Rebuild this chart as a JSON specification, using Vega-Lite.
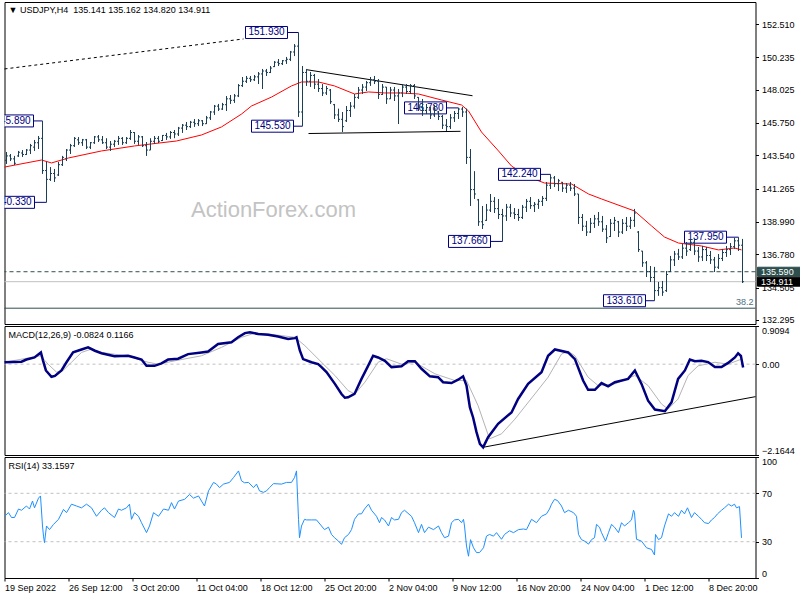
{
"$schema":"https://vega.github.io/schema/vega-lite/v6.json",
"background":"white",
"padding":{"left":-1.5,"top":1,"right":0,"bottom":0},
"spacing":2,
"bounds":"flush",
"config":{
 "view":{"stroke":"#000","strokeWidth":1},
 "axis":{"labelFont":"Liberation Sans","labelFontSize":9,"labelColor":"#000","tickColor":"#000","tickSize":3,"domain":false,"grid":false,"labelPadding":3}
},
"datasets":{
"bars":[
{"i":1,"o":143.2,"h":143.77,"l":142.95,"c":143.5},
{"i":3,"o":143.5,"h":143.63,"l":143.15,"c":143.3},
{"i":5,"o":143.3,"h":143.5,"l":142.88,"c":143.0},
{"i":7,"o":143.5,"h":143.84,"l":143.43,"c":143.75},
{"i":9,"o":143.7,"h":143.9,"l":143.43,"c":143.6},
{"i":11,"o":143.6,"h":143.97,"l":143.56,"c":143.9},
{"i":13,"o":143.9,"h":144.32,"l":143.63,"c":144.2},
{"i":15,"o":144.1,"h":144.59,"l":143.84,"c":144.4},
{"i":17,"o":144.4,"h":144.86,"l":143.97,"c":144.7},
{"i":19,"o":144.7,"h":145.89,"l":142.27,"c":142.5},
{"i":21,"o":142.5,"h":143.09,"l":140.33,"c":141.9},
{"i":23,"o":141.9,"h":142.74,"l":141.79,"c":142.3},
{"i":25,"o":142.3,"h":142.61,"l":141.72,"c":142.0},
{"i":27,"o":142.2,"h":143.09,"l":142.13,"c":142.9},
{"i":29,"o":142.9,"h":143.5,"l":142.81,"c":143.4},
{"i":31,"o":143.3,"h":143.97,"l":143.15,"c":143.9},
{"i":33,"o":143.9,"h":144.32,"l":143.63,"c":144.2},
{"i":35,"o":144.2,"h":144.79,"l":144.11,"c":144.7},
{"i":37,"o":144.6,"h":144.79,"l":144.25,"c":144.4},
{"i":39,"o":144.4,"h":144.66,"l":144.18,"c":144.6},
{"i":41,"o":144.6,"h":144.66,"l":143.97,"c":144.1},
{"i":43,"o":144.1,"h":144.45,"l":143.97,"c":144.4},
{"i":45,"o":144.4,"h":144.86,"l":144.32,"c":144.8},
{"i":47,"o":144.8,"h":144.93,"l":144.45,"c":144.6},
{"i":49,"o":144.6,"h":144.86,"l":144.32,"c":144.4},
{"i":51,"o":144.4,"h":144.71,"l":143.97,"c":144.1},
{"i":53,"o":144.1,"h":144.52,"l":143.84,"c":144.3},
{"i":55,"o":144.3,"h":144.59,"l":144.11,"c":144.5},
{"i":57,"o":144.5,"h":144.86,"l":144.25,"c":144.7},
{"i":59,"o":144.7,"h":144.79,"l":144.25,"c":144.4},
{"i":61,"o":144.4,"h":144.79,"l":144.32,"c":144.7},
{"i":63,"o":144.7,"h":145.27,"l":144.59,"c":145.1},
{"i":65,"o":145.1,"h":145.13,"l":144.32,"c":144.5},
{"i":67,"o":144.5,"h":144.93,"l":144.25,"c":144.8},
{"i":69,"o":144.8,"h":144.86,"l":144.11,"c":144.2},
{"i":71,"o":144.2,"h":144.45,"l":143.5,"c":143.9},
{"i":73,"o":143.9,"h":144.71,"l":143.9,"c":144.5},
{"i":75,"o":144.5,"h":144.86,"l":144.32,"c":144.7},
{"i":77,"o":144.7,"h":144.86,"l":144.38,"c":144.5},
{"i":79,"o":144.55,"h":144.93,"l":144.52,"c":144.9},
{"i":81,"o":144.9,"h":145.07,"l":144.59,"c":144.8},
{"i":83,"o":144.8,"h":145.2,"l":144.66,"c":145.1},
{"i":85,"o":145.1,"h":145.27,"l":144.71,"c":145.0},
{"i":87,"o":145.0,"h":145.48,"l":144.86,"c":145.4},
{"i":89,"o":145.4,"h":145.68,"l":145.07,"c":145.6},
{"i":91,"o":145.6,"h":145.82,"l":145.27,"c":145.5},
{"i":93,"o":145.5,"h":145.89,"l":145.41,"c":145.8},
{"i":95,"o":145.8,"h":146.02,"l":145.48,"c":145.7},
{"i":97,"o":145.7,"h":146.02,"l":145.54,"c":145.9},
{"i":99,"o":145.9,"h":145.95,"l":145.54,"c":145.7},
{"i":101,"o":145.7,"h":146.23,"l":145.68,"c":146.1},
{"i":103,"o":146.1,"h":146.57,"l":145.95,"c":146.5},
{"i":105,"o":146.5,"h":146.98,"l":146.3,"c":146.9},
{"i":107,"o":146.9,"h":147.05,"l":146.57,"c":146.7},
{"i":109,"o":146.7,"h":147.12,"l":146.64,"c":147.0},
{"i":111,"o":147.0,"h":147.59,"l":146.57,"c":147.4},
{"i":113,"o":147.4,"h":147.66,"l":147.05,"c":147.3},
{"i":115,"o":147.3,"h":147.73,"l":147.12,"c":147.6},
{"i":117,"o":147.6,"h":148.41,"l":147.52,"c":148.3},
{"i":119,"o":148.3,"h":148.89,"l":148.21,"c":148.6},
{"i":121,"o":148.6,"h":148.96,"l":148.48,"c":148.8},
{"i":123,"o":148.8,"h":148.96,"l":148.55,"c":148.7},
{"i":125,"o":148.7,"h":149.03,"l":148.62,"c":148.9},
{"i":127,"o":148.9,"h":149.23,"l":148.41,"c":149.1},
{"i":129,"o":149.1,"h":149.44,"l":148.07,"c":149.3},
{"i":131,"o":149.3,"h":149.44,"l":148.96,"c":149.2},
{"i":133,"o":149.2,"h":149.64,"l":149.16,"c":149.5},
{"i":135,"o":149.6,"h":149.98,"l":149.57,"c":149.9},
{"i":137,"o":149.9,"h":150.12,"l":149.64,"c":149.8},
{"i":139,"o":149.8,"h":150.05,"l":149.71,"c":150.0},
{"i":141,"o":150.0,"h":150.26,"l":149.78,"c":150.1},
{"i":143,"o":150.1,"h":150.67,"l":149.98,"c":150.6},
{"i":145,"o":150.6,"h":151.14,"l":150.32,"c":151.0},
{"i":147,"o":151.0,"h":151.93,"l":146.16,"c":146.5},
{"i":149,"o":146.5,"h":149.64,"l":145.53,"c":149.2},
{"i":151,"o":149.2,"h":149.44,"l":148.28,"c":148.6},
{"i":153,"o":148.6,"h":149.23,"l":148.21,"c":149.0},
{"i":155,"o":149.0,"h":149.1,"l":148.07,"c":148.4},
{"i":157,"o":148.4,"h":148.75,"l":147.87,"c":148.1},
{"i":159,"o":148.1,"h":148.41,"l":147.59,"c":147.8},
{"i":161,"o":147.8,"h":148.28,"l":147.66,"c":148.1},
{"i":163,"o":148.0,"h":148.07,"l":147.05,"c":147.2},
{"i":165,"o":147.0,"h":147.05,"l":146.02,"c":146.3},
{"i":167,"o":146.3,"h":146.73,"l":145.82,"c":146.0},
{"i":169,"o":146.0,"h":146.5,"l":145.13,"c":145.5},
{"i":171,"o":145.9,"h":146.91,"l":145.82,"c":146.6},
{"i":173,"o":146.6,"h":147.18,"l":146.16,"c":146.9},
{"i":175,"o":146.9,"h":147.73,"l":146.73,"c":147.5},
{"i":177,"o":147.5,"h":148.21,"l":147.39,"c":148.0},
{"i":179,"o":148.0,"h":148.41,"l":147.73,"c":148.2},
{"i":181,"o":148.2,"h":148.62,"l":147.93,"c":148.5},
{"i":183,"o":148.5,"h":148.89,"l":148.28,"c":148.7},
{"i":185,"o":148.7,"h":148.96,"l":148.41,"c":148.6},
{"i":187,"o":148.6,"h":148.75,"l":147.39,"c":147.7},
{"i":189,"o":147.7,"h":148.41,"l":147.66,"c":148.2},
{"i":191,"o":148.2,"h":148.21,"l":147.05,"c":147.4},
{"i":193,"o":147.4,"h":148.21,"l":147.39,"c":148.0},
{"i":195,"o":148.0,"h":148.21,"l":147.25,"c":147.6},
{"i":197,"o":147.6,"h":148.07,"l":145.68,"c":147.8},
{"i":199,"o":147.8,"h":148.41,"l":147.52,"c":148.2},
{"i":201,"o":148.2,"h":148.41,"l":147.73,"c":147.9},
{"i":203,"o":147.9,"h":148.41,"l":147.73,"c":148.3},
{"i":205,"o":148.3,"h":148.41,"l":147.39,"c":147.6},
{"i":207,"o":147.5,"h":147.52,"l":146.57,"c":146.8},
{"i":209,"o":146.8,"h":147.39,"l":146.23,"c":146.6},
{"i":211,"o":146.6,"h":147.05,"l":146.36,"c":146.8},
{"i":213,"o":146.8,"h":146.84,"l":146.02,"c":146.3},
{"i":215,"o":146.3,"h":146.98,"l":146.16,"c":146.7},
{"i":217,"o":146.5,"h":146.57,"l":145.95,"c":146.2},
{"i":219,"o":146.2,"h":146.3,"l":145.34,"c":145.6},
{"i":221,"o":145.6,"h":146.02,"l":145.2,"c":145.5},
{"i":223,"o":145.5,"h":146.36,"l":145.34,"c":146.1},
{"i":225,"o":146.1,"h":146.57,"l":145.82,"c":146.4},
{"i":227,"o":146.4,"h":146.78,"l":146.02,"c":146.7},
{"i":229,"o":146.7,"h":146.84,"l":146.16,"c":146.5},
{"i":231,"o":146.5,"h":146.73,"l":142.95,"c":143.4},
{"i":233,"o":143.4,"h":143.97,"l":140.08,"c":141.2},
{"i":235,"o":141.2,"h":142.46,"l":140.56,"c":140.9},
{"i":237,"o":140.5,"h":140.56,"l":138.72,"c":139.0},
{"i":239,"o":139.0,"h":140.08,"l":138.51,"c":138.8},
{"i":241,"o":139.1,"h":140.22,"l":139.06,"c":139.8},
{"i":243,"o":139.8,"h":140.9,"l":139.67,"c":140.4},
{"i":245,"o":140.4,"h":140.69,"l":139.6,"c":139.9},
{"i":247,"o":139.9,"h":140.56,"l":139.19,"c":139.5},
{"i":249,"o":139.5,"h":139.88,"l":137.66,"c":139.4},
{"i":251,"o":139.4,"h":140.22,"l":139.06,"c":140.0},
{"i":253,"o":140.0,"h":140.22,"l":139.33,"c":139.6},
{"i":255,"o":139.6,"h":139.94,"l":139.19,"c":139.5},
{"i":257,"o":139.5,"h":139.88,"l":139.06,"c":139.3},
{"i":259,"o":139.3,"h":140.15,"l":139.19,"c":140.0},
{"i":261,"o":140.0,"h":140.56,"l":139.67,"c":140.4},
{"i":263,"o":140.4,"h":140.69,"l":139.88,"c":140.1},
{"i":265,"o":140.1,"h":140.35,"l":139.67,"c":140.2},
{"i":267,"o":140.2,"h":140.56,"l":139.88,"c":140.4},
{"i":269,"o":140.4,"h":140.76,"l":140.08,"c":140.6},
{"i":271,"o":140.6,"h":141.72,"l":140.42,"c":141.5},
{"i":273,"o":141.5,"h":142.24,"l":141.24,"c":142.0},
{"i":275,"o":142.0,"h":142.13,"l":141.38,"c":141.6},
{"i":277,"o":141.6,"h":141.93,"l":141.1,"c":141.8},
{"i":279,"o":141.7,"h":141.72,"l":141.04,"c":141.3},
{"i":281,"o":141.3,"h":141.65,"l":140.97,"c":141.5},
{"i":283,"o":141.5,"h":141.72,"l":141.1,"c":141.3},
{"i":285,"o":141.3,"h":141.58,"l":140.76,"c":140.9},
{"i":287,"o":140.9,"h":140.9,"l":138.85,"c":139.3},
{"i":289,"o":139.3,"h":139.53,"l":138.37,"c":138.7},
{"i":291,"o":138.7,"h":139.06,"l":138.03,"c":138.3},
{"i":293,"o":138.3,"h":139.26,"l":138.24,"c":138.9},
{"i":295,"o":138.9,"h":139.47,"l":138.58,"c":139.2},
{"i":297,"o":139.2,"h":139.67,"l":138.72,"c":139.0},
{"i":299,"o":139.0,"h":139.4,"l":138.31,"c":138.5},
{"i":301,"o":138.5,"h":138.78,"l":137.55,"c":137.9},
{"i":303,"o":138.0,"h":139.19,"l":137.96,"c":138.9},
{"i":305,"o":138.9,"h":139.33,"l":138.37,"c":139.1},
{"i":307,"o":139.0,"h":139.06,"l":137.96,"c":138.3},
{"i":309,"o":138.3,"h":139.19,"l":138.17,"c":138.9},
{"i":311,"o":138.9,"h":139.33,"l":138.37,"c":138.7},
{"i":313,"o":138.7,"h":139.33,"l":138.51,"c":139.1},
{"i":315,"o":139.1,"h":139.88,"l":138.65,"c":139.6},
{"i":317,"o":138.3,"h":138.37,"l":136.94,"c":137.1},
{"i":319,"o":137.0,"h":137.01,"l":135.92,"c":136.2},
{"i":321,"o":136.2,"h":136.32,"l":135.23,"c":135.6},
{"i":323,"o":135.6,"h":135.98,"l":134.89,"c":135.2},
{"i":325,"o":135.2,"h":135.92,"l":133.61,"c":134.3},
{"i":327,"o":134.3,"h":134.89,"l":133.94,"c":134.5},
{"i":329,"o":134.5,"h":134.96,"l":133.94,"c":134.2},
{"i":331,"o":134.3,"h":135.64,"l":134.21,"c":135.4},
{"i":333,"o":135.6,"h":136.67,"l":135.57,"c":136.4},
{"i":335,"o":136.4,"h":137.01,"l":135.98,"c":136.8},
{"i":337,"o":136.8,"h":137.15,"l":136.39,"c":136.6},
{"i":339,"o":136.6,"h":137.49,"l":136.46,"c":137.2},
{"i":341,"o":137.2,"h":137.62,"l":136.67,"c":137.0},
{"i":343,"o":137.1,"h":137.83,"l":137.01,"c":137.6},
{"i":345,"o":137.6,"h":137.83,"l":136.73,"c":137.0},
{"i":347,"o":137.0,"h":137.28,"l":136.26,"c":136.6},
{"i":349,"o":136.6,"h":137.35,"l":136.32,"c":137.1},
{"i":351,"o":137.1,"h":137.28,"l":136.32,"c":136.7},
{"i":353,"o":136.7,"h":137.01,"l":136.12,"c":136.4},
{"i":355,"o":136.4,"h":136.6,"l":135.57,"c":135.9},
{"i":357,"o":135.9,"h":136.8,"l":135.78,"c":136.5},
{"i":359,"o":136.5,"h":137.15,"l":136.32,"c":136.9},
{"i":361,"o":136.9,"h":137.35,"l":136.6,"c":137.1},
{"i":363,"o":137.1,"h":137.55,"l":136.73,"c":137.3},
{"i":365,"o":137.3,"h":137.9,"l":137.15,"c":137.7},
{"i":367,"o":137.7,"h":137.95,"l":137.01,"c":137.4},
{"i":369,"o":137.4,"h":137.83,"l":134.82,"c":134.911}
],
"ma":[
{"i":0,"v":142.74},{"i":18.5,"v":143.22},{"i":23.5,"v":143.02},{"i":32,"v":143.36},{"i":48.5,"v":143.84},{"i":65,"v":144.18},{"i":73.5,"v":144.32},{"i":86,"v":144.52},{"i":98.5,"v":144.93},{"i":108.5,"v":145.48},{"i":118.5,"v":146.36},{"i":123.5,"v":146.91},{"i":133.5,"v":147.52},{"i":143.5,"v":148.28},{"i":148.5,"v":148.55},{"i":157,"v":148.55},{"i":165,"v":148.28},{"i":175,"v":147.73},{"i":182,"v":147.87},{"i":190,"v":147.8},{"i":198.5,"v":147.8},{"i":207,"v":147.73},{"i":218.5,"v":147.32},{"i":228.5,"v":146.98},{"i":232,"v":146.57},{"i":238.5,"v":145.13},{"i":247,"v":143.84},{"i":253.5,"v":142.81},{"i":262,"v":142.06},{"i":270,"v":141.65},{"i":283.5,"v":141.58},{"i":292,"v":140.9},{"i":298.5,"v":140.56},{"i":315,"v":139.74},{"i":323.5,"v":138.72},{"i":330,"v":137.96},{"i":337,"v":137.55},{"i":348.5,"v":137.35},{"i":357,"v":137.08},{"i":365,"v":137.21},{"i":368.5,"v":137.08}
],
"boxes":[
{"i":131,"p":151.93,"e":147,"t":"151.930"},
{"i":134,"p":145.53,"e":149,"t":"145.530"},
{"i":4,"p":145.89,"e":19,"t":"145.890"},
{"i":4.5,"p":140.33,"e":21,"t":"140.330"},
{"i":210.5,"p":146.78,"e":227,"t":"146.780"},
{"i":232.5,"p":137.66,"e":249,"t":"137.660"},
{"i":257.5,"p":142.24,"e":273,"t":"142.240"},
{"i":310,"p":133.61,"e":325,"t":"133.610"},
{"i":350.5,"p":137.95,"e":367,"t":"137.950"}
],
"macd":[
{"i":0,"v":0.045},{"i":8.5,"v":0.06},{"i":11,"v":0.11},{"i":15,"v":0.16},{"i":18.2,"v":0.28},{"i":19.3,"v":0.08},{"i":20.7,"v":-0.15},{"i":23.5,"v":-0.3},{"i":25.2,"v":-0.28},{"i":28.5,"v":-0.15},{"i":31,"v":0.045},{"i":34.3,"v":0.28},{"i":38.5,"v":0.35},{"i":41.8,"v":0.4},{"i":45.2,"v":0.32},{"i":48.5,"v":0.26},{"i":55,"v":0.19},{"i":61.8,"v":0.2},{"i":65,"v":0.16},{"i":68.5,"v":0.11},{"i":71,"v":-0.04},{"i":75,"v":-0.04},{"i":78.5,"v":0.02},{"i":81.8,"v":0.11},{"i":86.8,"v":0.13},{"i":91.8,"v":0.24},{"i":98.5,"v":0.28},{"i":101.8,"v":0.3},{"i":106.8,"v":0.48},{"i":113.5,"v":0.52},{"i":116.8,"v":0.64},{"i":120.2,"v":0.74},{"i":122.7,"v":0.76},{"i":126.8,"v":0.72},{"i":131.8,"v":0.7},{"i":136.8,"v":0.66},{"i":141.8,"v":0.6},{"i":145.2,"v":0.62},{"i":146,"v":0.64},{"i":147.7,"v":0.32},{"i":149.3,"v":0.12},{"i":153.5,"v":0.045},{"i":156.8,"v":0.0},{"i":158.5,"v":-0.07},{"i":161,"v":-0.19},{"i":165.2,"v":-0.47},{"i":168.5,"v":-0.71},{"i":170.2,"v":-0.8},{"i":171.8,"v":-0.79},{"i":175,"v":-0.71},{"i":178.5,"v":-0.35},{"i":181.8,"v":-0.04},{"i":184.3,"v":0.2},{"i":186.8,"v":0.16},{"i":190.2,"v":0.08},{"i":193.5,"v":-0.07},{"i":198.5,"v":-0.05},{"i":201.8,"v":0.07},{"i":205.2,"v":0.07},{"i":208.5,"v":-0.11},{"i":212.7,"v":-0.29},{"i":216.8,"v":-0.31},{"i":219.3,"v":-0.43},{"i":223.5,"v":-0.45},{"i":226.8,"v":-0.37},{"i":229.3,"v":-0.29},{"i":231,"v":-0.51},{"i":232.7,"v":-1.03},{"i":234.3,"v":-1.27},{"i":236,"v":-1.62},{"i":237.7,"v":-1.9},{"i":239.3,"v":-1.98},{"i":241.8,"v":-1.74},{"i":246.8,"v":-1.42},{"i":253.5,"v":-1.15},{"i":256.8,"v":-0.83},{"i":261.8,"v":-0.47},{"i":268.5,"v":-0.19},{"i":271.8,"v":0.2},{"i":275.2,"v":0.35},{"i":281.8,"v":0.28},{"i":285.2,"v":0.12},{"i":289.3,"v":-0.39},{"i":291.8,"v":-0.61},{"i":295.2,"v":-0.61},{"i":298.5,"v":-0.45},{"i":301.8,"v":-0.53},{"i":305.2,"v":-0.43},{"i":311.8,"v":-0.35},{"i":315.2,"v":-0.15},{"i":318.5,"v":-0.47},{"i":321.8,"v":-0.87},{"i":325.2,"v":-1.08},{"i":330.2,"v":-1.12},{"i":333.5,"v":-0.91},{"i":336.8,"v":-0.35},{"i":340.2,"v":-0.15},{"i":342.7,"v":0.11},{"i":345.2,"v":0.07},{"i":348.5,"v":0.08},{"i":351.8,"v":0.05},{"i":355.2,"v":-0.07},{"i":358.5,"v":-0.07},{"i":361.8,"v":0.03},{"i":365.2,"v":0.16},{"i":366.8,"v":0.26},{"i":368.2,"v":0.2},{"i":369.3,"v":-0.08}
],
"sig":[
{"i":0,"v":0.045},{"i":18,"v":0.2},{"i":21.8,"v":0.0},{"i":26,"v":-0.19},{"i":29.3,"v":-0.15},{"i":33.5,"v":0.045},{"i":38.5,"v":0.28},{"i":43.5,"v":0.36},{"i":48.5,"v":0.28},{"i":61.8,"v":0.19},{"i":71.8,"v":0.045},{"i":76.8,"v":0.0},{"i":85.2,"v":0.08},{"i":98.5,"v":0.2},{"i":108.5,"v":0.4},{"i":118.5,"v":0.64},{"i":125.2,"v":0.74},{"i":131.8,"v":0.72},{"i":145.2,"v":0.64},{"i":150.2,"v":0.44},{"i":158.5,"v":0.045},{"i":165.2,"v":-0.27},{"i":171.8,"v":-0.63},{"i":175.2,"v":-0.71},{"i":180.2,"v":-0.43},{"i":186.8,"v":0.045},{"i":191,"v":0.13},{"i":198.5,"v":0.0},{"i":205.2,"v":0.045},{"i":215.2,"v":-0.23},{"i":225.2,"v":-0.39},{"i":231,"v":-0.39},{"i":236.8,"v":-0.99},{"i":242.5,"v":-1.78},{"i":248.5,"v":-1.66},{"i":255.2,"v":-1.31},{"i":265.2,"v":-0.71},{"i":271.8,"v":-0.31},{"i":278.5,"v":0.24},{"i":281.8,"v":0.31},{"i":285.2,"v":0.2},{"i":291.8,"v":-0.31},{"i":296.8,"v":-0.51},{"i":305.2,"v":-0.47},{"i":315.2,"v":-0.27},{"i":321.8,"v":-0.51},{"i":328.5,"v":-0.95},{"i":331.8,"v":-1.07},{"i":336.8,"v":-0.83},{"i":341.8,"v":-0.27},{"i":346.8,"v":-0.04},{"i":355.2,"v":0.045},{"i":361.8,"v":0.0},{"i":368.5,"v":0.12}
],
"rsi":[
{"i":0,"v":51},{"i":2,"v":54},{"i":3.5,"v":50},{"i":5,"v":50},{"i":7,"v":57},{"i":8.5,"v":56},{"i":11,"v":59.5},{"i":12.5,"v":57},{"i":14,"v":63.6},{"i":15,"v":58},{"i":17,"v":66},{"i":18,"v":67.8},{"i":19,"v":43},{"i":19.5,"v":34.6},{"i":20,"v":29.2},{"i":21,"v":43},{"i":22.5,"v":40},{"i":24.5,"v":44.3},{"i":27,"v":48.5},{"i":29.5,"v":56.7},{"i":31,"v":54},{"i":33.5,"v":61},{"i":36,"v":59.5},{"i":38.5,"v":58},{"i":41,"v":61},{"i":43.5,"v":58},{"i":46,"v":51},{"i":48.5,"v":56},{"i":50,"v":58},{"i":52,"v":54},{"i":55,"v":50},{"i":57,"v":57},{"i":58.5,"v":56},{"i":61,"v":58},{"i":62.5,"v":61},{"i":63.5,"v":48.5},{"i":65,"v":54},{"i":67,"v":51},{"i":68.5,"v":45.7},{"i":71,"v":37.5},{"i":72.5,"v":43},{"i":74.5,"v":54},{"i":77,"v":51},{"i":79.5,"v":57},{"i":82,"v":56},{"i":83.5,"v":62.3},{"i":85,"v":57},{"i":87,"v":63.6},{"i":90,"v":65},{"i":92.5,"v":69},{"i":94.5,"v":66},{"i":97,"v":67.8},{"i":98.5,"v":63.6},{"i":100,"v":59.5},{"i":102,"v":72},{"i":104.5,"v":79},{"i":106,"v":77.6},{"i":107.5,"v":74.7},{"i":109.5,"v":77.6},{"i":112.5,"v":79},{"i":114.5,"v":83},{"i":117,"v":88.5},{"i":118.5,"v":80.3},{"i":120,"v":78.7},{"i":122,"v":79},{"i":124.5,"v":74.7},{"i":126,"v":77.6},{"i":127.5,"v":72},{"i":129.5,"v":70.8},{"i":131,"v":72},{"i":132.5,"v":74.7},{"i":134.5,"v":78},{"i":138.5,"v":77.6},{"i":141,"v":79},{"i":143.5,"v":79},{"i":145,"v":83},{"i":146,"v":88.5},{"i":147,"v":48.5},{"i":147.5,"v":33.3},{"i":148.5,"v":43},{"i":150,"v":48.5},{"i":151,"v":48},{"i":153.5,"v":48},{"i":156,"v":48},{"i":158.5,"v":43},{"i":160,"v":40},{"i":162,"v":42},{"i":163.5,"v":36},{"i":165,"v":33.3},{"i":167,"v":30.5},{"i":168.5,"v":27.8},{"i":170,"v":33.3},{"i":172,"v":36},{"i":173.5,"v":40},{"i":175,"v":48.5},{"i":177,"v":53},{"i":178.5,"v":53},{"i":180,"v":57},{"i":182,"v":61},{"i":183.5,"v":56},{"i":186,"v":51},{"i":187.5,"v":45.7},{"i":188.5,"v":50},{"i":190,"v":48},{"i":192,"v":43},{"i":193.5,"v":50},{"i":195,"v":48},{"i":197,"v":48.5},{"i":198.5,"v":54},{"i":200,"v":56},{"i":203.5,"v":51},{"i":205,"v":45.7},{"i":207,"v":37.5},{"i":208.5,"v":44.3},{"i":210,"v":37.5},{"i":212,"v":42},{"i":214.5,"v":40},{"i":217,"v":43},{"i":218.5,"v":37.5},{"i":220,"v":33.3},{"i":222,"v":34.6},{"i":223.5,"v":45.7},{"i":225,"v":48},{"i":227,"v":48.5},{"i":228.5,"v":45.7},{"i":229.5,"v":48.5},{"i":230,"v":43},{"i":231,"v":26.4},{"i":232,"v":18},{"i":233,"v":31.7},{"i":234.5,"v":25},{"i":236,"v":21},{"i":237.5,"v":21},{"i":239.5,"v":25},{"i":241,"v":34.6},{"i":242.5,"v":36},{"i":244.5,"v":34.6},{"i":246,"v":37.5},{"i":248.5,"v":32},{"i":250,"v":36},{"i":252.5,"v":39},{"i":254.5,"v":37.5},{"i":257,"v":40},{"i":259.5,"v":40.5},{"i":261,"v":40},{"i":263.5,"v":48.5},{"i":266,"v":45.7},{"i":268.5,"v":51},{"i":271,"v":53},{"i":272.5,"v":57},{"i":273.5,"v":61},{"i":275,"v":65},{"i":276.5,"v":64},{"i":278.5,"v":59.5},{"i":280,"v":54},{"i":282,"v":56},{"i":284.5,"v":54},{"i":286,"v":51},{"i":287,"v":36},{"i":288.5,"v":31.7},{"i":290,"v":30.5},{"i":292,"v":28},{"i":293.5,"v":31.7},{"i":295,"v":33.3},{"i":296,"v":44.3},{"i":297.5,"v":42},{"i":298.5,"v":37.5},{"i":300.5,"v":30.5},{"i":302,"v":37.5},{"i":303.5,"v":44.3},{"i":305,"v":42},{"i":307,"v":37.5},{"i":308.5,"v":45.7},{"i":310,"v":43},{"i":312,"v":45.7},{"i":313.5,"v":48},{"i":314.5,"v":56},{"i":315,"v":54},{"i":316,"v":32},{"i":318.5,"v":30.5},{"i":321,"v":25},{"i":323.5,"v":23.6},{"i":325,"v":19},{"i":325.5,"v":36},{"i":327,"v":31.7},{"i":328.5,"v":33.3},{"i":330,"v":43},{"i":332,"v":53},{"i":333.5,"v":51},{"i":335,"v":54},{"i":337,"v":51},{"i":338.5,"v":56},{"i":340,"v":53},{"i":341.5,"v":58},{"i":343.5,"v":50},{"i":345,"v":54},{"i":347,"v":51},{"i":348.5,"v":48.5},{"i":350,"v":45.7},{"i":352,"v":45},{"i":353.5,"v":48},{"i":355,"v":50},{"i":356.5,"v":53},{"i":358.5,"v":56},{"i":360,"v":58},{"i":362,"v":61},{"i":363.5,"v":59.5},{"i":365,"v":61},{"i":366,"v":58},{"i":367.5,"v":59},{"i":368.5,"v":33.16}
]
},
"vconcat":[
{"width":751,"height":322,
 "resolve":{"axis":{"x":"independent","y":"independent"}},
 "layer":[
  {"data":{"values":[{"i":134.5,"p":139.83,"t":"ActionForex.com"}]},
   "mark":{"type":"text","font":"Liberation Sans","fontSize":22,"color":"#c3c3c3","align":"center","baseline":"middle"},
   "encoding":{"x":{"field":"i","type":"quantitative","scale":{"domain":[0,375.5],"nice":false,"zero":false},"axis":null},
     "y":{"field":"p","type":"quantitative","scale":{"domain":[132.02,154.013],"nice":false,"zero":false},"axis":null},
     "text":{"field":"t"}}},
  {"data":{"values":[{"p":135.59}]},
   "mark":{"type":"rule","color":"#2f4f4f","strokeDash":[4,3],"strokeWidth":1},
   "encoding":{"y":{"field":"p","type":"quantitative","scale":{"domain":[132.02,154.013],"nice":false,"zero":false},"axis":null}}},
  {"data":{"values":[{"p":134.911}]},
   "mark":{"type":"rule","color":"#c0c0c0","strokeWidth":1},
   "encoding":{"y":{"field":"p","type":"quantitative","scale":{"domain":[132.02,154.013],"nice":false,"zero":false},"axis":null}}},
  {"data":{"values":[{"p":133.1}]},
   "mark":{"type":"rule","color":"#2f4f4f","strokeWidth":1},
   "encoding":{"y":{"field":"p","type":"quantitative","scale":{"domain":[132.02,154.013],"nice":false,"zero":false},"axis":null}}},
  {"data":{"values":[{"a":0,"b":149.44,"a2":119.5,"b2":151.49}]},
   "mark":{"type":"rule","color":"#000","strokeDash":[3,3],"strokeWidth":1},
   "encoding":{"x":{"field":"a","type":"quantitative","scale":{"domain":[0,375.5],"nice":false,"zero":false},"axis":null},"x2":{"field":"a2"},
     "y":{"field":"b","type":"quantitative","scale":{"domain":[132.02,154.013],"nice":false,"zero":false},"axis":null},"y2":{"field":"b2"}}},
  {"data":{"values":[{"a":151,"b":149.39,"a2":234,"b2":147.61},{"a":152,"b":145.03,"a2":228,"b2":145.18}]},
   "mark":{"type":"rule","color":"#000","strokeWidth":1},
   "encoding":{"x":{"field":"a","type":"quantitative","scale":{"domain":[0,375.5],"nice":false,"zero":false},"axis":null},"x2":{"field":"a2"},
     "y":{"field":"b","type":"quantitative","scale":{"domain":[132.02,154.013],"nice":false,"zero":false},"axis":null},"y2":{"field":"b2"}}},
  {"data":{"name":"ma"},
   "mark":{"type":"line","color":"#ff0000","strokeWidth":1},
   "encoding":{"x":{"field":"i","type":"quantitative","scale":{"domain":[0,375.5],"nice":false,"zero":false},"axis":null},
     "y":{"field":"v","type":"quantitative","scale":{"domain":[132.02,154.013],"nice":false,"zero":false},"axis":null}}},
  {"data":{"name":"boxes"},
   "mark":{"type":"rule","color":"#000080","strokeWidth":1,"clip":true},
   "encoding":{"x":{"field":"i","type":"quantitative","scale":{"domain":[0,375.5],"nice":false,"zero":false},"axis":null},"x2":{"field":"e"},
     "y":{"field":"p","type":"quantitative","scale":{"domain":[132.02,154.013],"nice":false,"zero":false},"axis":null}}},
  {"data":{"name":"boxes"},
   "mark":{"type":"point","shape":"M-1,-0.2857L1,-0.2857L1,0.2857L-1,0.2857Z","size":1764,"filled":true,"fill":"#ffffff","stroke":"#000080","strokeWidth":1,"opacity":1,"clip":true},
   "encoding":{"x":{"field":"i","type":"quantitative","scale":{"domain":[0,375.5],"nice":false,"zero":false},"axis":null},
     "y":{"field":"p","type":"quantitative","scale":{"domain":[132.02,154.013],"nice":false,"zero":false},"axis":null}}},
  {"data":{"name":"boxes"},
   "mark":{"type":"text","font":"Liberation Sans","fontSize":10,"color":"#000080","align":"center","baseline":"middle","clip":true},
   "encoding":{"x":{"field":"i","type":"quantitative","scale":{"domain":[0,375.5],"nice":false,"zero":false},"axis":null},
     "y":{"field":"p","type":"quantitative","scale":{"domain":[132.02,154.013],"nice":false,"zero":false},"axis":null},
     "text":{"field":"t"}}},
  {"data":{"name":"bars"},
   "mark":{"type":"rule","color":"#1a4058","strokeWidth":1},
   "encoding":{"x":{"field":"i","type":"quantitative","scale":{"domain":[0,375.5],"nice":false,"zero":false},"axis":null},
     "y":{"field":"l","type":"quantitative","scale":{"domain":[132.02,154.013],"nice":false,"zero":false},
       "axis":{"orient":"right","values":[152.51,150.235,148.025,145.75,143.54,141.265,138.99,136.78,134.505,132.295],"format":".3f","title":null}},
     "y2":{"field":"h"}}},
  {"data":{"name":"bars"},
   "mark":{"type":"point","shape":"M-1,0L0,0","size":9,"filled":false,"color":"#1a4058","strokeWidth":1,"opacity":1},
   "encoding":{"x":{"field":"i","type":"quantitative","scale":{"domain":[0,375.5],"nice":false,"zero":false},"axis":null},
     "y":{"field":"o","type":"quantitative","scale":{"domain":[132.02,154.013],"nice":false,"zero":false},"axis":null}}},
  {"data":{"name":"bars"},
   "mark":{"type":"point","shape":"M0,0L1,0","size":9,"filled":false,"color":"#1a4058","strokeWidth":1,"opacity":1},
   "encoding":{"x":{"field":"i","type":"quantitative","scale":{"domain":[0,375.5],"nice":false,"zero":false},"axis":null},
     "y":{"field":"c","type":"quantitative","scale":{"domain":[132.02,154.013],"nice":false,"zero":false},"axis":null}}},
  {"data":{"values":[{"i":2,"p":153.47,"t":"▼ USDJPY,H4\u00a0 135.141 135.162 134.820 134.911"}]},
   "mark":{"type":"text","font":"Liberation Sans","fontSize":9,"color":"#000","align":"left","baseline":"middle"},
   "encoding":{"x":{"field":"i","type":"quantitative","scale":{"domain":[0,375.5],"nice":false,"zero":false},"axis":null},
     "y":{"field":"p","type":"quantitative","scale":{"domain":[132.02,154.013],"nice":false,"zero":false},"axis":null},
     "text":{"field":"t"}}},
  {"data":{"values":[{"i":374.5,"p":133.49,"t":"38.2"}]},
   "mark":{"type":"text","font":"Liberation Sans","fontSize":9,"color":"#4f6f7f","align":"right","baseline":"middle"},
   "encoding":{"x":{"field":"i","type":"quantitative","scale":{"domain":[0,375.5],"nice":false,"zero":false},"axis":null},
     "y":{"field":"p","type":"quantitative","scale":{"domain":[132.02,154.013],"nice":false,"zero":false},"axis":null},
     "text":{"field":"t"}}},
  {"data":{"values":[{"i":387.5,"p":135.59}]},
   "mark":{"type":"point","shape":"M-1,-0.205L1,-0.205L1,0.205L-1,0.205Z","size":1936,"filled":true,"fill":"#2f4f4f","stroke":"#2f4f4f","strokeWidth":1,"opacity":1},
   "encoding":{"x":{"field":"i","type":"quantitative","scale":{"domain":[0,375.5],"nice":false,"zero":false},"axis":null},
     "y":{"field":"p","type":"quantitative","scale":{"domain":[132.02,154.013],"nice":false,"zero":false},"axis":null}}},
  {"data":{"values":[{"i":387.5,"p":134.911}]},
   "mark":{"type":"point","shape":"M-1,-0.205L1,-0.205L1,0.205L-1,0.205Z","size":1936,"filled":true,"fill":"#000000","stroke":"#000000","strokeWidth":1,"opacity":1},
   "encoding":{"x":{"field":"i","type":"quantitative","scale":{"domain":[0,375.5],"nice":false,"zero":false},"axis":null},
     "y":{"field":"p","type":"quantitative","scale":{"domain":[132.02,154.013],"nice":false,"zero":false},"axis":null}}},
  {"data":{"values":[{"i":378.3,"p":135.59,"t":"135.590"},{"i":378.3,"p":134.911,"t":"134.911"}]},
   "mark":{"type":"text","font":"Liberation Sans","fontSize":9,"color":"#ffffff","align":"left","baseline":"middle"},
   "encoding":{"x":{"field":"i","type":"quantitative","scale":{"domain":[0,375.5],"nice":false,"zero":false},"axis":null},
     "y":{"field":"p","type":"quantitative","scale":{"domain":[132.02,154.013],"nice":false,"zero":false},"axis":null},
     "text":{"field":"t"}}}
 ]},
{"width":751,"height":129,
 "resolve":{"axis":{"x":"independent","y":"independent"}},
 "layer":[
  {"data":{"values":[{"v":0}]},
   "mark":{"type":"rule","color":"#c0c0c0","strokeDash":[3,3],"strokeWidth":1},
   "encoding":{"y":{"field":"v","type":"quantitative","scale":{"domain":[-2.1644,0.9094],"nice":false,"zero":false},"axis":null}}},
  {"data":{"values":[{"a":239.35,"b":-1.98,"a2":375.5,"b2":-0.774}]},
   "mark":{"type":"rule","color":"#000","strokeWidth":1},
   "encoding":{"x":{"field":"a","type":"quantitative","scale":{"domain":[0,375.5],"nice":false,"zero":false},"axis":null},"x2":{"field":"a2"},
     "y":{"field":"b","type":"quantitative","scale":{"domain":[-2.1644,0.9094],"nice":false,"zero":false},"axis":null},"y2":{"field":"b2"}}},
  {"data":{"name":"sig"},
   "mark":{"type":"line","color":"#b4b4b4","strokeWidth":1},
   "encoding":{"x":{"field":"i","type":"quantitative","scale":{"domain":[0,375.5],"nice":false,"zero":false},"axis":null},
     "y":{"field":"v","type":"quantitative","scale":{"domain":[-2.1644,0.9094],"nice":false,"zero":false},"axis":null}}},
  {"data":{"name":"macd"},
   "mark":{"type":"line","color":"#000080","strokeWidth":2.5},
   "encoding":{"x":{"field":"i","type":"quantitative","scale":{"domain":[0,375.5],"nice":false,"zero":false},"axis":null},
     "y":{"field":"v","type":"quantitative","scale":{"domain":[-2.1644,0.9094],"nice":false,"zero":false},
       "axis":{"orient":"right","values":[0.9094,0,-2.1644],"labelExpr":"datum.value == 0 ? '0.00' : format(datum.value, '.4f')","labelFlush":true,"title":null}}}},
  {"data":{"values":[{"i":2,"v":0.7,"t":"MACD(12,26,9) -0.0824 0.1166"}]},
   "mark":{"type":"text","font":"Liberation Sans","fontSize":9,"color":"#000","align":"left","baseline":"middle"},
   "encoding":{"x":{"field":"i","type":"quantitative","scale":{"domain":[0,375.5],"nice":false,"zero":false},"axis":null},
     "y":{"field":"v","type":"quantitative","scale":{"domain":[-2.1644,0.9094],"nice":false,"zero":false},"axis":null},
     "text":{"field":"t"}}}
 ]},
{"width":751,"height":121,
 "resolve":{"axis":{"x":"independent","y":"independent"}},
 "layer":[
  {"data":{"values":[{"v":70},{"v":30}]},
   "mark":{"type":"rule","color":"#c0c0c0","strokeDash":[3,3],"strokeWidth":1},
   "encoding":{"y":{"field":"v","type":"quantitative","scale":{"domain":[0,100],"nice":false,"zero":false},"axis":null}}},
  {"data":{"name":"rsi"},
   "mark":{"type":"line","color":"#1e90ff","strokeWidth":1},
   "encoding":{"x":{"field":"i","type":"quantitative","scale":{"domain":[0,375.5],"nice":false,"zero":false},
       "axis":{"values":[0,32,64,96,128,160,192,224,256,288,320,352],"labelExpr":"['19 Sep 2022','26 Sep 12:00','3 Oct 20:00','11 Oct 04:00','18 Oct 12:00','25 Oct 20:00','2 Nov 04:00','9 Nov 12:00','16 Nov 20:00','24 Nov 04:00','1 Dec 12:00','8 Dec 20:00'][round(datum.value/32)]","labelAlign":"left","labelPadding":2,"labelOverlap":false,"labelFlush":false,"title":null}},
     "y":{"field":"v","type":"quantitative","scale":{"domain":[0,100],"nice":false,"zero":false},
       "axis":{"orient":"right","values":[100,70,30,0],"labelFlush":true,"title":null}}}},
  {"data":{"values":[{"i":2,"v":92.6,"t":"RSI(14) 33.1597"}]},
   "mark":{"type":"text","font":"Liberation Sans","fontSize":9,"color":"#000","align":"left","baseline":"middle"},
   "encoding":{"x":{"field":"i","type":"quantitative","scale":{"domain":[0,375.5],"nice":false,"zero":false},"axis":null},
     "y":{"field":"v","type":"quantitative","scale":{"domain":[0,100],"nice":false,"zero":false},"axis":null},
     "text":{"field":"t"}}}
 ]}
]
}
